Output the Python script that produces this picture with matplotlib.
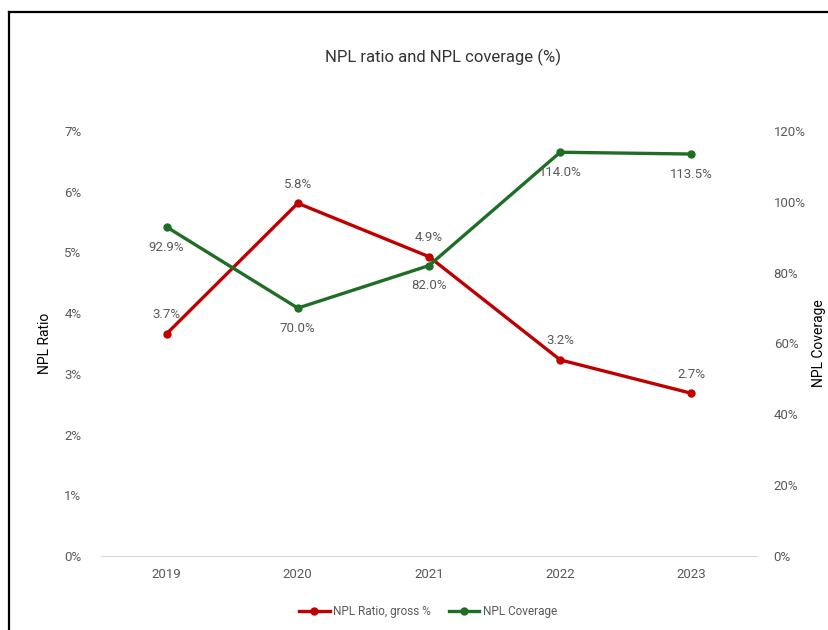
import matplotlib.pyplot as plt
from matplotlib.lines import Line2D
from matplotlib.ticker import FuncFormatter

years = ["2019", "2020", "2021", "2022", "2023"]
npl_ratio = [3.66, 5.81, 4.93, 3.23, 2.68]      # %
npl_coverage = [92.9, 70.0, 82.0, 114.0, 113.5]  # %

RED = "#C00000"
GREEN = "#1E6E26"
GREY = "#595959"

plt.rcParams['font.family'] = ['Roboto', 'DejaVu Sans']

fig = plt.figure(figsize=(8.29, 6.3), dpi=100)
ax = fig.add_axes([101 / 829, 1 - 556 / 630, 656 / 829, 425 / 630])
ax2 = ax.twinx()

x = range(len(years))
ax.plot(x, npl_ratio, color=RED, lw=2.4, marker="o", ms=5, zorder=3)
ax2.plot(x, npl_coverage, color=GREEN, lw=2.4, marker="o", ms=5, zorder=3)

for i, v in enumerate(npl_ratio):
    ax.annotate(f"{v:.1f}%", (i, v), xytext=(0, 9), textcoords="offset points",
                ha="center", va="bottom", fontsize=9.5, color=GREY)
for i, v in enumerate(npl_coverage):
    ax2.annotate(f"{v:.1f}%", (i, v), xytext=(0, -10), textcoords="offset points",
                 ha="center", va="top", fontsize=9.5, color=GREY)

ax.set_xlim(-0.5, len(years) - 0.5)
ax.set_ylim(0, 7)
ax2.set_ylim(0, 120)
ax.set_xticks(list(x))
ax.set_xticklabels(years)
ax.set_yticks(range(0, 8))
ax2.set_yticks(range(0, 121, 20))
ax.yaxis.set_major_formatter(FuncFormatter(lambda v, p: f"{v:.0f}%"))
ax2.yaxis.set_major_formatter(FuncFormatter(lambda v, p: f"{v:.0f}%"))

for a in (ax, ax2):
    for s in a.spines.values():
        s.set_visible(False)
    a.tick_params(length=0, labelsize=9.5, labelcolor=GREY)
ax.spines["bottom"].set_visible(True)
ax.spines["bottom"].set_color("#D9D9D9")
ax.tick_params(axis="y", pad=14)
ax.tick_params(axis="x", pad=9)
ax2.tick_params(axis="y", pad=12)

ax.set_ylabel("NPL Ratio", fontsize=10, va="center")
ax.yaxis.set_label_coords((45 - 101) / 656, 0.5)
ax2.set_ylabel("NPL Coverage", fontsize=10, rotation=90, va="center")
ax2.yaxis.set_label_coords((819 - 101) / 656, 0.5)

fig.text(443 / 829, 1 - 57 / 630, "NPL ratio and NPL coverage (%)",
         ha="center", va="center", fontsize=12, color="#333333")

handles = [Line2D([], [], color=RED, lw=2.4, marker="o", ms=5),
           Line2D([], [], color=GREEN, lw=2.4, marker="o", ms=5)]
leg = fig.legend(handles, ["NPL Ratio, gross %", "NPL Coverage"], loc="center",
                 bbox_to_anchor=(428 / 829, 1 - 612 / 630), ncol=2, frameon=False,
                 fontsize=8.5, handlelength=2.6, handletextpad=0.3, columnspacing=1.5)
for t in leg.get_texts():
    t.set_color(GREY)

# outer frame of the report figure
fig.add_artist(Line2D([9.5 / 829, 9.5 / 829], [0, 1 - 11.5 / 630], color="black",
                      lw=1.6, transform=fig.transFigure))
fig.add_artist(Line2D([9.5 / 829, 1], [1 - 11.5 / 630, 1 - 11.5 / 630], color="black",
                      lw=1.6, transform=fig.transFigure))

fig.savefig("out.png", dpi=100)
